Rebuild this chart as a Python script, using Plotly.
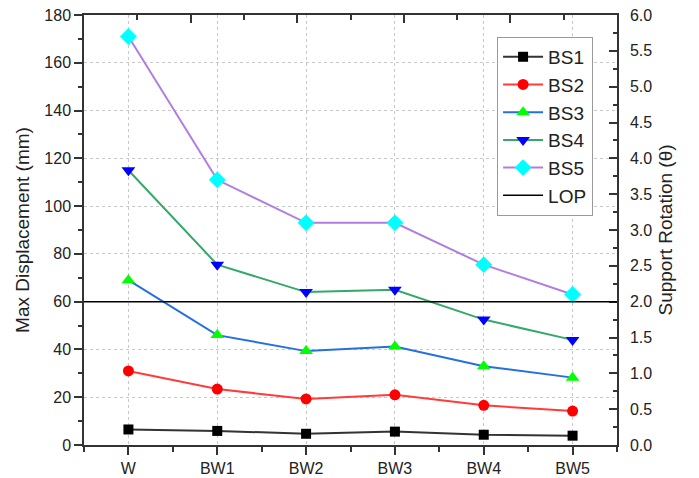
import plotly.graph_objects as go

# Wall configurations along the x axis
categories = ["W", "BW1", "BW2", "BW3", "BW4", "BW5"]

# Maximum displacement (mm) per beam-slab series
bs1 = [6.5, 5.9, 4.7, 5.6, 4.3, 3.9]
bs2 = [31.0, 23.4, 19.3, 21.0, 16.6, 14.2]
bs3 = [69.0, 46.0, 39.3, 41.2, 33.0, 28.2]
bs4 = [115.0, 75.5, 64.0, 65.0, 52.5, 44.0]
bs5 = [171.0, 111.0, 93.0, 93.0, 75.5, 63.0]

# Level of protection threshold (mm)
lop_value = 60

series = [
    ("BS1", bs1, "#333333", "#000000", "square", 10),
    ("BS2", bs2, "#ff3c3c", "#ff0000", "circle", 11),
    ("BS3", bs3, "#2470e0", "#00ff00", "triangle-up", 12),
    ("BS4", bs4, "#35a86a", "#0000ff", "triangle-down", 12),
    ("BS5", bs5, "#b07ee0", "#00ffff", "diamond", 13),
]

xpos = list(range(len(categories)))
font_family = "Arial, Liberation Sans, sans-serif"
axis_color = "#333333"
grid_color = "#c8c8c8"

fig = go.Figure()
for name, vals, lcol, mcol, sym, size in series:
    fig.add_trace(go.Scatter(
        x=xpos, y=vals, name=name, mode="lines+markers",
        line=dict(color=lcol, width=2),
        marker=dict(color=mcol, symbol=sym, size=size, line=dict(width=0)),
    ))

# empty trace so the secondary (top / right) axes get rendered
fig.add_trace(go.Scatter(x=[None], y=[None], xaxis="x2", yaxis="y2",
                         showlegend=False, hoverinfo="skip"))

fig.add_shape(
    type="line", xref="paper", x0=0, x1=1, yref="y", y0=lop_value, y1=lop_value,
    line=dict(color="#000000", width=1.5), showlegend=True, name="LOP",
)

fig.update_layout(
    width=699, height=478,
    margin=dict(l=84, r=82, t=15, b=33),
    paper_bgcolor="white", plot_bgcolor="white",
    font=dict(family=font_family, size=16, color="#222222"),
    showlegend=True,
    legend=dict(
        x=0.775, y=0.949, xanchor="left", yanchor="top",
        bgcolor="white", bordercolor="#999999", borderwidth=1,
        font=dict(size=19, color="#222222"),
        tracegroupgap=0, itemwidth=40,
    ),
    xaxis=dict(
        range=[-0.5, 5.5], tickmode="array", tickvals=xpos, ticktext=categories,
        showline=True, linecolor=axis_color, linewidth=1.5,
        ticks="outside", ticklen=8, tickwidth=1.5, tickcolor=axis_color,
        minor=dict(dtick=0.5, tick0=-0.5, ticks="outside", ticklen=5,
                   tickwidth=1.5, tickcolor=axis_color, showgrid=False),
        showgrid=True, gridcolor=grid_color, griddash="dot", gridwidth=1,
        zeroline=False, tickfont=dict(size=16), automargin=False,
    ),
    xaxis2=dict(
        overlaying="x", side="top", range=[0, 5], dtick=1,
        showline=True, linecolor=axis_color, linewidth=1.5,
        ticks="inside", ticklen=8, tickwidth=1.5, tickcolor=axis_color,
        minor=dict(dtick=0.5, ticks="inside", ticklen=5, tickwidth=1.5,
                   tickcolor=axis_color),
        showticklabels=False, showgrid=False, zeroline=False, automargin=False,
    ),
    yaxis=dict(
        range=[0, 180], dtick=20,
        title=dict(text="Max Displacement (mm)", font=dict(size=19), standoff=10),
        showline=True, linecolor=axis_color, linewidth=1.5,
        ticks="outside", ticklen=8, tickwidth=1.5, tickcolor=axis_color,
        minor=dict(dtick=10, ticks="outside", ticklen=4, tickwidth=1.5,
                   tickcolor=axis_color, showgrid=False),
        showgrid=True, gridcolor=grid_color, griddash="dot", gridwidth=1,
        zeroline=False, tickfont=dict(size=16), automargin=False,
    ),
    yaxis2=dict(
        overlaying="y", side="right", range=[0, 6], dtick=0.5, tickformat=".1f",
        title=dict(text="Support Rotation (θ)", font=dict(size=19), standoff=7),
        showline=True, linecolor=axis_color, linewidth=1.5,
        ticks="inside", ticklen=8, tickwidth=1.5, tickcolor=axis_color,
        minor=dict(dtick=0.25, ticks="inside", ticklen=4, tickwidth=1.5,
                   tickcolor=axis_color),
        ticklabelstandoff=8,
        showgrid=False, zeroline=False, tickfont=dict(size=16), automargin=False,
    ),
)

fig.write_html("out.html")
